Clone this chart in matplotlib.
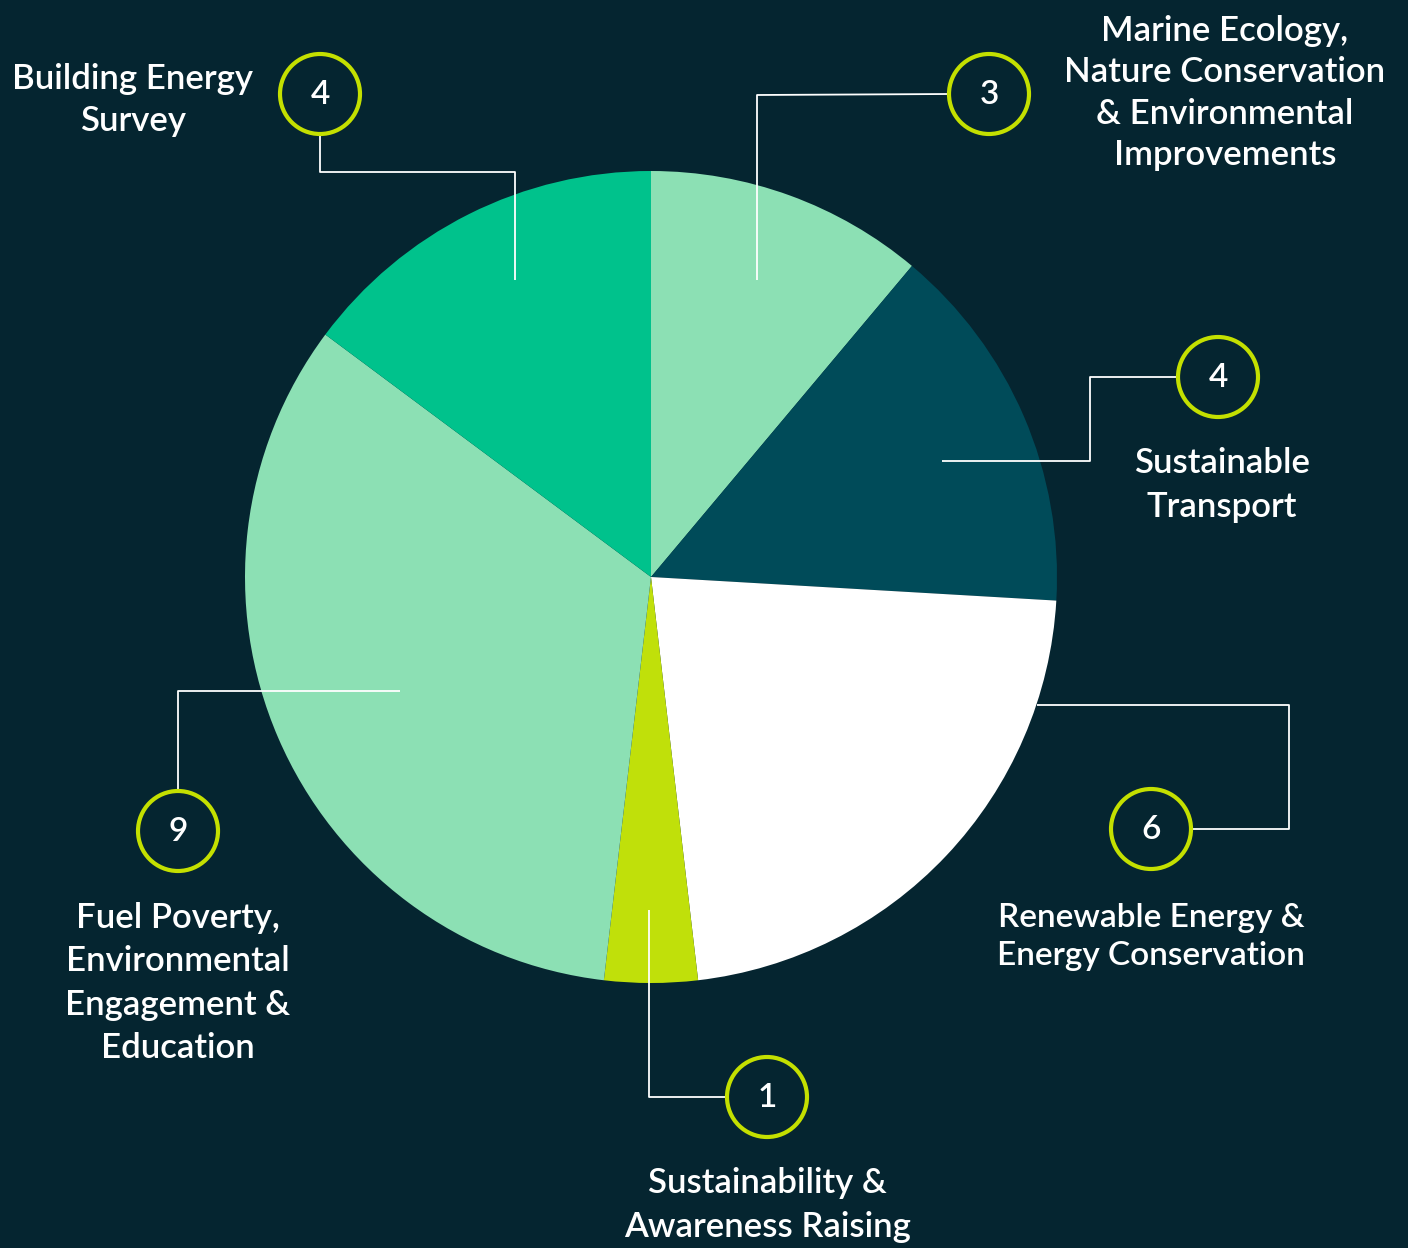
import matplotlib
matplotlib.use("Agg")
import matplotlib.pyplot as plt
from matplotlib.patches import Circle

# data, clockwise from 12 o'clock
categories = ["Marine Ecology,\nNature Conservation\n& Environmental\nImprovements",
              "Sustainable\nTransport",
              "Renewable Energy &\nEnergy Conservation",
              "Sustainability &\nAwareness Raising",
              "Fuel Poverty,\nEnvironmental\nEngagement &\nEducation",
              "Building Energy\nSurvey"]
values = [3, 4, 6, 1, 9, 4]
colors = ["#8ce0b4", "#004b59", "#ffffff", "#c0e00a", "#8ce0b4", "#00c28c"]

BG = "#052530"
LIME = "#c4e000"
W, H = 1408, 1248

fig = plt.figure(figsize=(W / 100, H / 100), dpi=100, facecolor=BG)
ax = fig.add_axes([0, 0, 1, 1])
ax.set_facecolor(BG)

# y axis gets flipped below, so counterclockwise in data == clockwise on screen
ax.pie(values, colors=colors, startangle=270, counterclock=True,
       center=(651, 577), radius=406, frame=True,
       wedgeprops=dict(linewidth=0))
ax.set_xlim(0, W)
ax.set_ylim(H, 0)  # pixel coords, y down
ax.axis("off")

# callouts: circle centre, leader path, label centre, line spacing (px), font size
callouts = [
    ((989, 94), [(949, 94), (757, 95), (757, 280)], (1225, 93), 42, 25),
    ((1218, 377), [(1178, 377), (1090, 377), (1090, 461), (942, 461)], (1222, 485), 44, 25),
    ((1151, 829), [(1191, 829), (1289, 829), (1289, 705), (1037, 705)], (1151, 937), 40, 24),
    ((767, 1097), [(727, 1097), (649, 1097), (649, 910)], (767, 1205), 44, 25),
    ((178, 831), [(178, 791), (178, 691), (400, 691)], (178, 983), 44, 25),
    ((320, 94), [(320, 134), (320, 172), (515, 172), (515, 280)], (133, 100), 43, 25),
]

for (c, path, lab, ls, fs), v, name in zip(callouts, values, categories):
    xs = [p[0] for p in path]
    ys = [p[1] for p in path]
    ax.plot(xs, ys, color="white", lw=1.3, solid_capstyle="butt", zorder=3)
    ax.add_patch(Circle(c, 40, facecolor=BG, edgecolor=LIME, lw=3, zorder=4))
    ax.text(c[0], c[1] + 1, str(v), color="white", fontsize=24, family="Lato",
            weight="semibold", ha="center", va="center", zorder=5)
    ax.text(lab[0], lab[1], name, color="white", fontsize=fs, family="Lato",
            weight="semibold", ha="center", va="center",
            linespacing=ls / (1.235 * fs), multialignment="center")

fig.savefig("out.png", dpi=100, facecolor=BG)
